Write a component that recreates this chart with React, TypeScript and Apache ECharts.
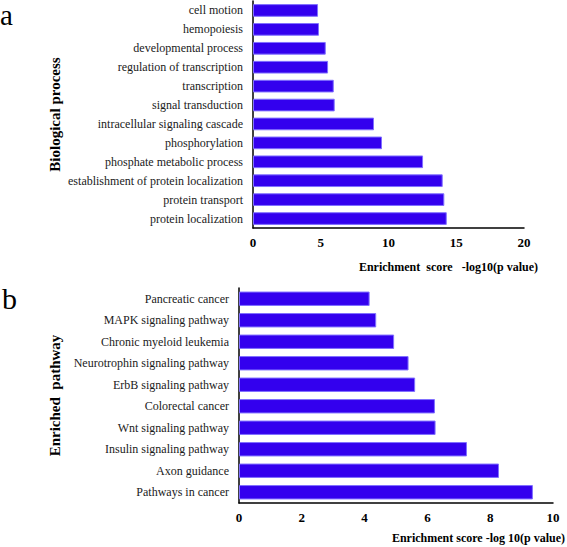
import React, { useEffect, useRef } from 'react';
import * as echarts from 'echarts';

const processCategories = [
  'cell motion',
  'hemopoiesis',
  'developmental process',
  'regulation of transcription',
  'transcription',
  'signal transduction',
  'intracellular signaling cascade',
  'phosphorylation',
  'phosphate metabolic process',
  'establishment of protein localization',
  'protein transport',
  'protein localization',
];
const processValues = [4.8, 4.87, 5.37, 5.54, 5.96, 6.03, 8.93, 9.52, 12.55, 14.0, 14.12, 14.3];
const processAxis = { min: 0, max: 20, interval: 5 };

const pathwayCategories = [
  'Pancreatic cancer',
  'MAPK signaling pathway',
  'Chronic myeloid leukemia',
  'Neurotrophin signaling pathway',
  'ErbB signaling pathway',
  'Colorectal cancer',
  'Wnt signaling pathway',
  'Insulin signaling pathway',
  'Axon guidance',
  'Pathways in cancer',
];
const pathwayValues = [4.16, 4.37, 4.94, 5.4, 5.61, 6.24, 6.26, 7.26, 8.28, 9.36];
const pathwayAxis = { min: 0, max: 10, interval: 2 };

const FONT = 'Liberation Serif';

export default function App() {
  const ref = useRef<HTMLDivElement>(null);
  useEffect(() => {
    if (!ref.current) return;
    const chart = echarts.init(ref.current, undefined, { renderer: 'svg' });
    const axisLine = { show: true, lineStyle: { color: '#000', width: 1.5 } };
    const catAxis = (idx: number, cats: string[], name: string, gap: number) => ({
      type: 'category',
      gridIndex: idx,
      data: cats,
      inverse: true,
      axisLine,
      axisTick: { show: false },
      axisLabel: { fontFamily: FONT, fontSize: 12, color: '#1a1a1a', margin: 10 },
      name,
      nameLocation: 'middle',
      nameGap: gap,
      nameTextStyle: { fontFamily: FONT, fontSize: 15, fontWeight: 'bold', color: '#000' },
    });
    const valAxis = (idx: number, ax: { min: number; max: number; interval: number }, name: string, gap: number, pad: number) => ({
      type: 'value',
      gridIndex: idx,
      min: ax.min,
      max: ax.max,
      interval: ax.interval,
      splitLine: { show: false },
      axisTick: { show: false },
      axisLine,
      axisLabel: { fontFamily: FONT, fontSize: 13, fontWeight: 'bold', color: '#000', margin: 8 },
      name,
      nameLocation: 'end',
      nameGap: gap,
      nameTextStyle: {
        fontFamily: FONT,
        fontSize: 12,
        fontWeight: 'bold',
        color: '#000',
        align: 'right',
        verticalAlign: 'top',
        padding: [pad, 0, 0, 0],
      },
    });
    const barStyle = { color: '#3300ee', borderColor: '#8070ff', borderWidth: 1 };
    chart.setOption({
      animation: false,
      backgroundColor: '#fff',
      grid: [
        { left: 253, top: 1, width: 271, height: 227 },
        { left: 239, top: 288, width: 314, height: 215 },
      ],
      xAxis: [
        valAxis(0, processAxis, 'Enrichment  score   -log10(p value)', 14, 33),
        valAxis(1, pathwayAxis, 'Enrichment score -log 10(p value)', 12, 29),
      ],
      yAxis: [
        catAxis(0, processCategories, 'Biological process', 191),
        catAxis(1, pathwayCategories, 'Enriched  pathway', 177),
      ],
      series: [
        { type: 'bar', xAxisIndex: 0, yAxisIndex: 0, data: processValues, barCategoryGap: '33%', itemStyle: barStyle },
        { type: 'bar', xAxisIndex: 1, yAxisIndex: 1, data: pathwayValues, barCategoryGap: '33%', itemStyle: barStyle },
      ],
      graphic: [
        { type: 'text', left: 0, top: 0, style: { text: 'a', fontFamily: FONT, fontSize: 29, fill: '#000' } },
        { type: 'text', left: 2, top: 283, style: { text: 'b', fontFamily: FONT, fontSize: 30, fill: '#000' } },
      ],
    });
    return () => chart.dispose();
  }, []);
  return <div ref={ref} style={{ position: 'fixed', left: 0, top: 0, width: 567, height: 547 }} />;
}
